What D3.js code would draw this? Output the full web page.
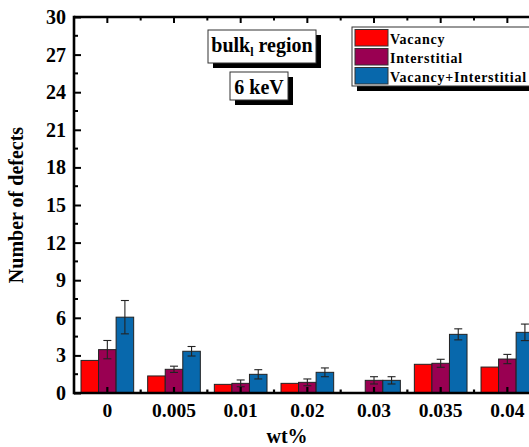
<!DOCTYPE html>
<html>
<head>
<meta charset="utf-8">
<script src="https://cdn.jsdelivr.net/npm/d3@7"></script>
<style>
  html, body { margin: 0; padding: 0; background: #fff; overflow: hidden; }
  svg { display: block; font-family: "Liberation Serif", "Times New Roman", serif; font-weight: bold; }
</style>
</head>
<body>
<svg id="chart" width="529" height="447"></svg>
<script>
// Categories (wt%) and series
const categories = ["0", "0.005", "0.01", "0.02", "0.03", "0.035", "0.04"];
const seriesNames = ["Vacancy", "Interstitial", "Vacancy+Interstitial"];
const vacancy      = [2.6, 1.36, 0.69, 0.77, 0, 2.29, 2.07];
const interstitial = [3.46, 1.89, 0.77, 0.85, 1.01, 2.37, 2.71];
const combined     = [6.05, 3.33, 1.49, 1.65, 1.01, 4.68, 4.84];
const interstitialErr = [0.73, 0.25, 0.27, 0.27, 0.29, 0.32, 0.37];
const combinedErr     = [1.33, 0.38, 0.37, 0.35, 0.29, 0.44, 0.66];
const yTicks = [0, 3, 6, 9, 12, 15, 18, 21, 24, 27, 30];

const colors = ["#ff0000", "#990052", "#0868ac"];

const svg = d3.select("#chart");
const plotLeft = 74, plotTop = 17, plotBottom = 393;
const step = 66.67;
const plotRight = plotLeft + step * categories.length;

const x0 = d3.scaleBand().domain(categories).range([plotLeft, plotRight])
  .paddingInner(0.21).paddingOuter(0.105);
const x1 = d3.scaleBand().domain(seriesNames).range([0, x0.bandwidth()]);
const y = d3.scaleLinear().domain([0, 30]).range([plotBottom, plotTop]);

const series = [vacancy, interstitial, combined];
const errs = [null, interstitialErr, combinedErr];

// Bars
const rows = [];
categories.forEach((c, i) => {
  seriesNames.forEach((s, k) => {
    rows.push({ c, s, k, v: series[k][i], e: errs[k] ? errs[k][i] : null });
  });
});

svg.append("g").selectAll("rect")
  .data(rows.filter(d => d.v > 0))
  .join("rect")
  .attr("x", d => x0(d.c) + x1(d.s))
  .attr("y", d => y(d.v))
  .attr("width", x1.bandwidth())
  .attr("height", d => y(0) - y(d.v))
  .attr("fill", d => colors[d.k])
  .attr("stroke", "#222")
  .attr("stroke-width", 1);

// Error bars
const eg = svg.append("g").attr("stroke", "#222").attr("stroke-width", 1.1).attr("fill", "none");
rows.filter(d => d.e != null).forEach(d => {
  const cx = x0(d.c) + x1(d.s) + x1.bandwidth() / 2;
  const y1 = y(d.v + d.e), y2 = y(d.v - d.e);
  eg.append("line").attr("x1", cx).attr("x2", cx).attr("y1", y1).attr("y2", y2);
  eg.append("line").attr("x1", cx - 4).attr("x2", cx + 4).attr("y1", y1).attr("y2", y1);
  eg.append("line").attr("x1", cx - 4).attr("x2", cx + 4).attr("y1", y2).attr("y2", y2);
});

// Y axis (ticks pointing inward)
const yAxis = d3.axisLeft(y).tickValues(yTicks).tickSize(-7).tickPadding(8);
const gy = svg.append("g").attr("transform", `translate(${plotLeft},0)`).call(yAxis);
gy.select(".domain").remove();
gy.selectAll(".tick line").attr("stroke", "#000").attr("stroke-width", 2);
gy.selectAll(".tick text").attr("font-size", 20).attr("font-family", "Liberation Serif")
  .attr("font-weight", "bold").attr("fill", "#000");

// Minor y ticks
const yMinor = d3.range(1.5, 30, 3);
svg.append("g").selectAll("line").data(yMinor).join("line")
  .attr("x1", plotLeft).attr("x2", plotLeft + 4)
  .attr("y1", d => y(d)).attr("y2", d => y(d))
  .attr("stroke", "#000").attr("stroke-width", 2);

// X axis
const xAxis = d3.axisBottom(x0).tickSize(-6).tickPadding(10);
const gx = svg.append("g").attr("transform", `translate(0,${plotBottom})`).call(xAxis);
gx.select(".domain").remove();
gx.selectAll(".tick line").attr("stroke", "#000").attr("stroke-width", 2.2);
gx.selectAll(".tick text").attr("font-size", 19.5).attr("font-family", "Liberation Serif")
  .attr("font-weight", "bold").attr("fill", "#000");

// Minor x ticks at group boundaries, bottom and top
const bounds = categories.map((c, i) => plotLeft + (i + 1) * x0.step());
svg.append("g").selectAll("line").data(bounds).join("line")
  .attr("x1", d => d).attr("x2", d => d)
  .attr("y1", plotBottom).attr("y2", plotBottom - 3.5)
  .attr("stroke", "#000").attr("stroke-width", 2.2);

const gt = svg.append("g").attr("transform", `translate(0,${plotTop})`)
  .call(d3.axisTop(x0).tickSize(-6).tickFormat(""));
gt.select(".domain").remove();
gt.selectAll(".tick line").attr("stroke", "#000").attr("stroke-width", 2);
svg.append("g").selectAll("line").data(bounds).join("line")
  .attr("x1", d => d).attr("x2", d => d)
  .attr("y1", plotTop).attr("y2", plotTop + 3.5)
  .attr("stroke", "#000").attr("stroke-width", 2);

// Frame lines
svg.append("line").attr("x1", plotLeft).attr("x2", plotRight + 10).attr("y1", plotBottom).attr("y2", plotBottom)
  .attr("stroke", "#000").attr("stroke-width", 2.6);
svg.append("line").attr("x1", plotLeft).attr("x2", plotRight + 10).attr("y1", plotTop).attr("y2", plotTop)
  .attr("stroke", "#000").attr("stroke-width", 2.4);
svg.append("line").attr("x1", plotLeft).attr("x2", plotLeft).attr("y1", plotTop - 1.2).attr("y2", plotBottom + 1.3)
  .attr("stroke", "#000").attr("stroke-width", 2.6);

// Axis titles
svg.append("text").attr("x", 287).attr("y", 443).attr("text-anchor", "middle")
  .attr("font-size", 20).text("wt%");
svg.append("text").attr("transform", `translate(23,${(plotTop + plotBottom) / 2}) rotate(-90)`)
  .attr("text-anchor", "middle").attr("font-size", 20).text("Number of defects");

// Annotation boxes with drop shadows
function shadowBox(x, yy, w, h) {
  svg.append("rect").attr("x", x + 5).attr("y", yy + 5).attr("width", w).attr("height", h).attr("fill", "#000");
  svg.append("rect").attr("x", x).attr("y", yy).attr("width", w).attr("height", h)
    .attr("fill", "#fff").attr("stroke", "#333").attr("stroke-width", 1);
}
shadowBox(208, 30, 108, 33);
const t1 = svg.append("text").attr("x", 262).attr("y", 52).attr("text-anchor", "middle").attr("font-size", 20);
t1.append("tspan").text("bulk");
t1.append("tspan").attr("font-size", 12).attr("dy", 4).text("l");
t1.append("tspan").attr("dy", -4).text(" region");

shadowBox(230, 72, 58, 28);
svg.append("text").attr("x", 259).attr("y", 94).attr("text-anchor", "middle").attr("font-size", 20).text("6 keV");

// Legend
shadowBox(352, 27, 185, 59);
const lg = svg.append("g");
seriesNames.forEach((s, k) => {
  const ry = 29.5 + k * 19;
  lg.append("rect").attr("x", 355).attr("y", ry).attr("width", 33).attr("height", 16.5)
    .attr("fill", colors[k]).attr("stroke", "#333").attr("stroke-width", 1);
  lg.append("text").attr("x", 390).attr("y", ry + 14).attr("font-size", 14)
    .attr("letter-spacing", 0.75).text(s);
});
</script>
</body>
</html>
